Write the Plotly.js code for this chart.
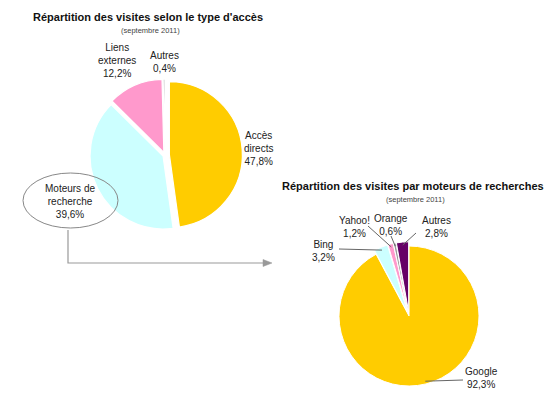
<!DOCTYPE html>
<html><head><meta charset="utf-8">
<script src="https://cdn.plot.ly/plotly-3.0.1.min.js"></script>
<style>html,body{margin:0;padding:0;background:#fff}#chart{width:550px;height:399px}</style>
</head><body><div id="chart"></div>
<script>
// ---- data ----
const accessLabels = ["Accès directs", "Moteurs de recherche", "Liens externes", "Autres"];
const accessText = ["Accès<br>directs", "Moteurs de<br>recherche", "Liens<br>externes", "Autres"];
const accessValues = [47.8, 39.6, 12.2, 0.4];
const accessColors = ["#FFCC00", "#CCFFFF", "#FF99CC", "#B4B4B4"];

const engineLabels = ["Google", "Bing", "Yahoo!", "Orange", "Autres"];
const engineValues = [92.3, 3.2, 1.2, 0.6, 2.8];
const engineColors = ["#FFCC00", "#CCFFFF", "#FF99CC", "#999999", "#660066"];

const title1 = "Répartition des visites selon le type d'accès";
const title2 = "Répartition des visites par moteurs de recherches";
const subtitle = "(septembre 2011)";

// ---- layout helpers ----
const W = 550, H = 399;
const px = x => x / W, py = y => 1 - y / H;
const fmt = v => v.toFixed(1).replace('.', ',') + '%';
const FONT = "Liberation Sans, Arial, Helvetica, sans-serif";

const pie1 = {cx: 165, cy: 155, r: 73, pull: [0.06, 0.03, 0.04, 0.04]};
const pie2 = {cx: 409, cy: 316, r: 70, pull: [0, 0.06, 0.06, 0.06, 0.06]};
function domainOf(p) {
  const R = p.r * (1 + Math.max(...p.pull));
  return {x: [px(p.cx - R), px(p.cx + R)], y: [py(p.cy + R), py(p.cy - R)]};
}
// mid-angle anchor point of slice i on the rim (clockwise from 12 o'clock)
function anchor(p, values, i, rf) {
  const tot = values.reduce((a, b) => a + b, 0);
  let c = 0; for (let k = 0; k < i; k++) c += values[k];
  const a = 2 * Math.PI * (c + values[i] / 2) / tot;
  const rr = p.r * (1 + p.pull[i]) * rf;
  return [p.cx + rr * Math.sin(a), p.cy - rr * Math.cos(a)];
}

const traces = [
  {type: 'pie', labels: accessLabels, values: accessValues, sort: false, direction: 'clockwise', rotation: 0,
   marker: {colors: accessColors, line: {color: '#fff', width: 1.2}}, pull: pie1.pull,
   textinfo: 'none', hoverinfo: 'label+percent', domain: domainOf(pie1), showlegend: false},
  {type: 'pie', labels: engineLabels, values: engineValues, sort: false, direction: 'clockwise', rotation: 0,
   marker: {colors: engineColors, line: {color: '#fff', width: 1}}, pull: pie2.pull,
   textinfo: 'none', hoverinfo: 'label+percent', domain: domainOf(pie2), showlegend: false}
];

const ann = [];
function txt(x, y, text, size, bold, color) {
  ann.push({xref: 'paper', yref: 'paper', x: px(x), y: py(y), text: bold ? '<b>' + text + '</b>' : text,
    showarrow: false, xanchor: 'center', yanchor: 'middle', align: 'center',
    font: {family: FONT, size: size, color: color || '#222'}});
}
txt(148, 17, title1, 11, true, '#111');
txt(150, 30, subtitle, 7.5, false, '#444');
txt(413, 186, title2, 11, true, '#111');
txt(415, 199, subtitle, 7.5, false, '#444');

const pos1 = [[258, 148], [70, 201], [117, 60], [164, 62]];
accessValues.forEach((v, i) => txt(pos1[i][0], pos1[i][1], accessText[i] + '<br>' + fmt(v), 10, false));

const pos2 = [[481, 378], [323, 251], [354, 227], [391, 225], [436, 227]];
const lineStart2 = [[463, 380], [339, 249], [368, 226], [391, 236], [416, 233]];
engineValues.forEach((v, i) => txt(pos2[i][0], pos2[i][1], engineLabels[i] + '<br>' + fmt(v), 10, false));

const shapes = [];
engineValues.forEach((v, i) => {
  const a = anchor(pie2, engineValues, i, 0.96);
  shapes.push({type: 'line', xref: 'paper', yref: 'paper', x0: px(lineStart2[i][0]), y0: py(lineStart2[i][1]),
    x1: px(a[0]), y1: py(a[1]), line: {color: '#666', width: 1}});
});
// ellipse around "Moteurs de recherche"
shapes.push({type: 'circle', xref: 'paper', yref: 'paper', x0: px(23), x1: px(118), y0: py(228), y1: py(173),
  line: {color: '#888', width: 1}});
// connector arrow
shapes.push({type: 'path', xref: 'paper', yref: 'paper',
  path: `M ${px(68)},${py(230)} L ${px(68)},${py(263)} L ${px(264)},${py(263)}`, line: {color: '#999', width: 1.2}});
shapes.push({type: 'path', xref: 'paper', yref: 'paper',
  path: `M ${px(263)},${py(259.5)} L ${px(272)},${py(263)} L ${px(263)},${py(266.5)} Z`,
  fillcolor: '#999', line: {color: '#999', width: 0.5}});

const layout = {width: W, height: H, margin: {l: 0, r: 0, t: 0, b: 0}, paper_bgcolor: '#fff',
  showlegend: false, annotations: ann, shapes: shapes, font: {family: FONT}};
Plotly.newPlot('chart', traces, layout, {displayModeBar: false, staticPlot: true});
</script></body></html>
